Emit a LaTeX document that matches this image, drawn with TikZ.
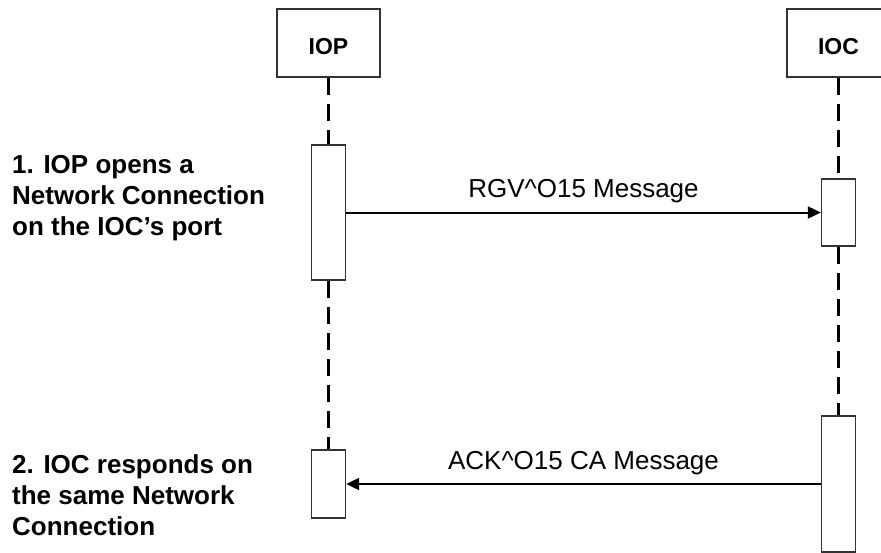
\documentclass[tikz,border=0pt]{standalone}
\usepackage{fontspec}
\setmainfont{Liberation Sans}
\usetikzlibrary{arrows.meta}
\definecolor{boxgray}{HTML}{333333}
\begin{document}
\begin{tikzpicture}[x=1pt,y=-1pt,
  head/.style={draw=boxgray, line width=1.3pt, minimum width=103pt, minimum height=68pt, inner sep=0pt, text height=22pt, text depth=0pt, font=\fontsize{23}{27}\selectfont\bfseries},
  bar/.style={draw=boxgray, fill=white, line width=1.3pt, minimum width=34pt, inner sep=0pt},
  life/.style={line width=2.5pt, dash pattern=on 17pt off 9pt},
  msg/.style={line width=2pt, -{Triangle[length=13pt,width=12pt]}},
  msglabel/.style={font=\fontsize{26}{31}\selectfont, anchor=base, inner sep=0pt},
  note/.style={font=\fontsize{26}{31}\selectfont\bfseries, align=left, anchor=base west, inner sep=0pt}
]
\useasboundingbox (0,0) rectangle (881,552);
\node[head] (iop) at (328.5,43) {IOP};
\node[head] (ioc) at (838.5,43) {IOC};
\node[bar, minimum height=135pt] (iopA) at (328.5,212.5) {};
\node[bar, minimum height=67pt] (iocA) at (838.5,212.5) {};
\node[bar, minimum height=68pt] (iopB) at (328.5,484) {};
\node[bar, minimum height=136pt] (iocB) at (838.5,484) {};
\draw[life] (iop.south) -- (iopA.north);
\draw[life] (iopA.south) -- (iopB.north);
\draw[life] (ioc.south) -- (iocA.north);
\draw[life] (iocA.south) -- (iocB.north);
\draw[msg] (iopA.east |- iocA.west) -- (iocA.west) node[midway, msglabel, yshift=15pt] (m1) {RGV\textasciicircum O15 Message};
\draw[msg] (iocB.west) -- (iopB.east) node[midway, msglabel, yshift=15pt] (m2) {ACK\textasciicircum O15 CA Message};
\node[note] (n1) at (12,235) {1. IOP opens a\\Network Connection\\on the IOC’s port};
\node[note] (n2) at (12,535) {2. IOC responds on\\the same Network\\Connection};
\end{tikzpicture}
\end{document}
